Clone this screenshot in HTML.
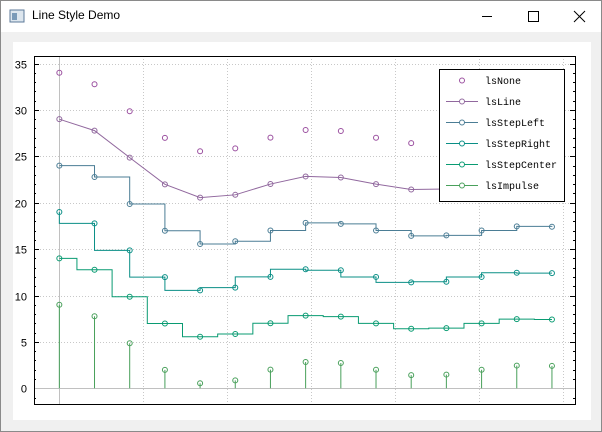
<!DOCTYPE html>
<html><head><meta charset="utf-8"><style>
body{margin:0;width:602px;height:432px;overflow:hidden;background:#fff;font-family:"Liberation Sans",sans-serif}
#win{position:absolute;left:0;top:0;width:600px;height:430px;border:1px solid #8a8a8a;background:#f0f0f0}
#title{position:absolute;left:0;top:0;width:600px;height:31px;background:#fff}
#title span{position:absolute;left:31px;top:7px;font-size:12px;color:#000}
</style></head><body>
<div id="win">
<div id="title">
<svg width="600" height="31" style="position:absolute;left:0;top:0">
<rect x="9" y="9" width="14" height="12" fill="#dde6ee" stroke="#5c7a99"/>
<rect x="11" y="12" width="5" height="7" fill="#7a9ab8"/>
<line x1="481" y1="15.5" x2="491" y2="15.5" stroke="#000"/>
<rect x="527.5" y="10.5" width="10" height="10" fill="none" stroke="#000"/>
<path d="M573 10 L584 21 M584 10 L573 21" stroke="#000"/>
</svg>
<span>Line Style Demo</span>
</div>
<div style="position:absolute;left:12px;top:41px;width:578px;height:378px;background:#fff"></div>
</div>
<svg id="chart" width="602" height="432" style="position:absolute;left:0;top:0"></svg>
<script>
const baseValues=[9,7.77,4.86,1.98,0.55,0.85,2.01,2.83,2.72,2.0,1.42,1.48,2.0,2.45,2.41];
const xValues=[0.01,1.057,2.104,3.152,4.199,5.246,6.293,7.34,8.388,9.435,10.482,11.529,12.577,13.624,14.671];
const seriesNames=["lsNone","lsLine","lsStepLeft","lsStepRight","lsStepCenter","lsImpulse"];
const seriesOffsets=[25,20,15,10,5,0];
const seriesColors=["rgb(155,80,160)","rgb(145,104,158)","rgb(75,125,149)","rgb(10,143,134)","rgb(9,155,114)","rgb(73,160,91)"];
const yTicks=[0,5,10,15,20,25,30,35];
const xTicks=[2.5,5,7.5,10,12.5,15];

const svg=document.getElementById('chart');
const NS='http://www.w3.org/2000/svg';
const L=34,R=575,T=56,B=404;
const sx=x=>59+x*33.6;
const sy=v=>388.3-v*9.28;
function mk(t,a,p){const e=document.createElementNS(NS,t);for(const k in a)e.setAttribute(k,a[k]);(p||svg).appendChild(e);return e;}
xTicks.forEach(t=>{const g=mk('line',{x1:sx(t)+.5,x2:sx(t)+.5,y1:T,y2:B,stroke:'#c8c8c8','stroke-dasharray':'1,2'});

});
yTicks.forEach(t=>{const y=Math.round(sy(t))+.5;
if(t!==0){const g=mk('line',{x1:L,x2:R,y1:y,y2:y,stroke:'#c8c8c8','stroke-dasharray':'1,2'});

}
const tx=mk('text',{x:27,y:y+4,'text-anchor':'end','font-size':'11',fill:'#000'});tx.textContent=t;


mk('line',{x1:L,x2:L+5,y1:y,y2:y,stroke:'#000'});mk('line',{x1:R-5,x2:R,y1:y,y2:y,stroke:'#000'});
});
for(let v=-1;v<=35;v++){if(v%5===0)continue;const y=Math.round(sy(v))+.5;
mk('line',{x1:L,x2:L+2,y1:y,y2:y,stroke:'#000'});mk('line',{x1:R-2,x2:R,y1:y,y2:y,stroke:'#000'});}
const zx=mk('line',{x1:sx(0)+.5,x2:sx(0)+.5,y1:T,y2:B,stroke:'#c0c0c0'});


const zy=mk('line',{x1:L,x2:R,y1:Math.round(sy(0))+.5,y2:Math.round(sy(0))+.5,stroke:'#c0c0c0'});


seriesNames.forEach((name,i)=>{
 const c=seriesColors[i];
 const pts=xValues.map((x,j)=>[sx(x),sy(baseValues[j]+seriesOffsets[i])]);
 const g=mk('g',{});
 
 
 let d='';
 if(i===1){d='M'+pts.map(p=>p.join(',')).join(' L');}
 else if(i===2){pts.forEach((p,j)=>{d+=(j?' L'+p[0]+','+pts[j-1][1]+' L':'M')+p[0]+','+p[1];});}
 else if(i===3){pts.forEach((p,j)=>{d+=(j?' L'+pts[j-1][0]+','+p[1]+' L':'M')+p[0]+','+p[1];});}
 else if(i===4){pts.forEach((p,j)=>{if(!j){d='M'+p[0]+','+p[1];return;}const m=(pts[j-1][0]+p[0])/2;d+=' L'+m+','+pts[j-1][1]+' L'+m+','+p[1]+' L'+p[0]+','+p[1];});}
 else if(i===5){pts.forEach(p=>{d+=' M'+p[0]+','+sy(0)+' L'+p[0]+','+p[1];});}
 if(d)mk('path',{d:d,fill:'none',stroke:c,'stroke-width':1},g);
 pts.forEach(p=>{const ci=mk('circle',{cx:p[0],cy:p[1],r:2.5,fill:'none',stroke:c},g);
 
 });
});
const fr=mk('rect',{x:L+.5,y:T+.5,width:R-L,height:B-T,fill:'none',stroke:'#000'});


const lg=mk('g',{});


mk('rect',{x:439.5,y:69.5,width:125,height:132,fill:'#fff',stroke:'#000'},lg);
seriesNames.forEach((name,i)=>{const y=80+i*21;const c=seriesColors[i];
 const e=mk('g',{},lg);
 
 
 if(i>0)mk('line',{x1:446,x2:478,y1:y+.5,y2:y+.5,stroke:c},e);
 mk('circle',{cx:462,cy:y+.5,r:2.5,fill:'#fff',stroke:c},e);
 const t=mk('text',{x:485,y:y+4,'font-size':'10','font-family':'Liberation Mono, monospace',fill:'#000'},e);t.textContent=name;
});
</script>
</body></html>
